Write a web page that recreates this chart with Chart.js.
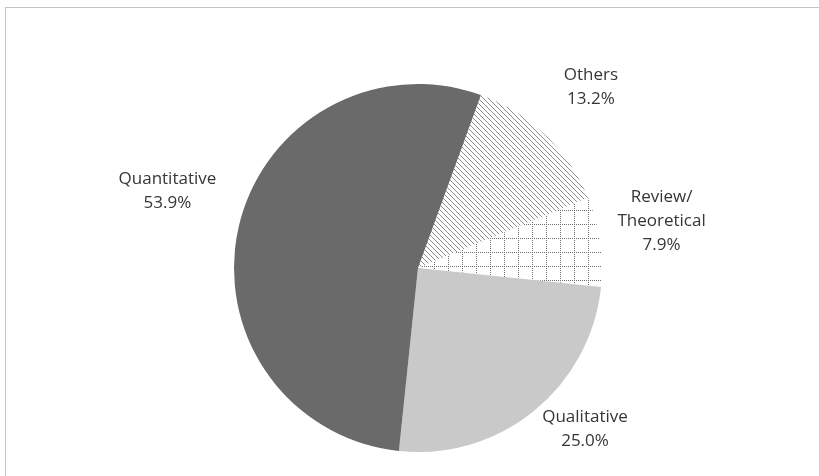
<!DOCTYPE html>
<html>
<head>
<meta charset="utf-8">
<script src="https://cdn.jsdelivr.net/npm/chart.js@4"></script>
<style>
    html, body { margin: 0; padding: 0; background: #fff; overflow: hidden; }
    #frame { position: absolute; left: 5px; top: 7px; width: 830px; height: 480px; border: 1px solid #c4c4c4; }
    #myPie { position: absolute; left: 0; top: 0; }
</style>
</head>
<body>
<div id="frame"></div>
<canvas id="myPie" width="819" height="476"></canvas>
<script>
// dane wykresu (zgodnie z ruchem wskazówek zegara)
const categories = ['Others', 'Review/Theoretical', 'Qualitative', 'Quantitative'];
const shares = [13.2, 7.9, 25.0, 53.9];

// wzór: ukośne kreski
function hatchPattern() {
    const s = 5;
    const c = document.createElement('canvas');
    c.width = s; c.height = s;
    const g = c.getContext('2d');
    g.fillStyle = '#fff';
    g.fillRect(0, 0, s, s);
    g.strokeStyle = '#8c8c8c';
    g.lineWidth = 1;
    g.beginPath();
    g.moveTo(-1, -1); g.lineTo(s + 1, s + 1);
    g.moveTo(-1, s - 1); g.lineTo(1, s + 1);
    g.moveTo(s - 1, -1); g.lineTo(s + 1, 1);
    g.stroke();
    return g.createPattern(c, 'repeat');
}

// wzór: kropkowana siatka
function gridPattern() {
    const w = 14, h = 14;
    const c = document.createElement('canvas');
    c.width = w; c.height = h;
    const g = c.getContext('2d');
    g.fillStyle = '#fff';
    g.fillRect(0, 0, w, h);
    g.fillStyle = '#6e6e6e';
    for (let y = 0; y < h; y += 2) g.fillRect(0, y, 1, 1);
    for (let x = 0; x < w; x += 2) g.fillRect(x, 0, 1, 1);
    return g.createPattern(c, 'repeat');
}

const ctx0 = document.getElementById('myPie').getContext('2d');

const outsideLabels = {
    id: 'outsideLabels',
    afterDatasetsDraw(chart, args, opts) {
        const ctx = chart.ctx;
        const meta = chart.getDatasetMeta(0);
        ctx.save();
        ctx.font = '17px "Open Sans"';
        ctx.fillStyle = '#363636';
        ctx.textAlign = 'center';
        ctx.textBaseline = 'middle';
        meta.data.forEach((arc, i) => {
            const p = arc.getProps(['x', 'y', 'startAngle', 'endAngle', 'outerRadius']);
            const mid = (p.startAngle + p.endAngle) / 2 + opts.shift[i] * Math.PI / 180;
            const d = p.outerRadius + opts.offset[i];
            const cx = p.x + Math.cos(mid) * d;
            const cy = p.y + Math.sin(mid) * d;
            const name = categories[i];
            const cut = name.indexOf('/') + 1;
            const lines = cut > 0 ? [name.slice(0, cut), name.slice(cut)] : [name];
            lines.push(shares[i].toFixed(1) + '%');
            const lh = 24;
            const top = cy - (lines.length - 1) * lh / 2;
            lines.forEach((t, k) => ctx.fillText(t, cx, top + k * lh));
        });
        ctx.restore();
    }
};

const myPie = new Chart(ctx0, {
    type: 'pie',
    data: {
        labels: categories,
        datasets: [{
            data: shares,
            backgroundColor: [hatchPattern(), gridPattern(), '#c9c9c9', '#6a6a6a'],
            borderWidth: 0
        }]
    },
    options: {
        responsive: false,
        animation: false,
        rotation: 20,
        layout: { padding: { top: 84, bottom: 24, left: 100, right: 83 } },
        plugins: {
            legend: { display: false },
            tooltip: { enabled: false },
            outsideLabels: { offset: [66, 64, 48, 78], shift: [0, -2.6, -7, 4] }
        }
    },
    plugins: [outsideLabels]
});
</script>
</body>
</html>
